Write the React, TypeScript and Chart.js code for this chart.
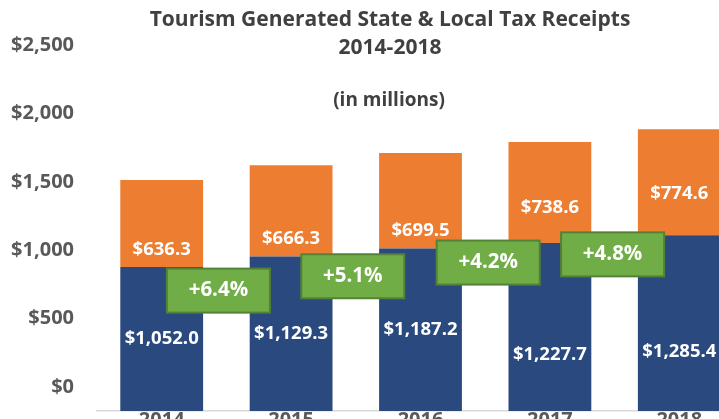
import React, { useEffect, useRef } from "react";
import { Chart, registerables } from "chart.js";

Chart.register(...registerables);

const years = ["2014", "2015", "2016", "2017", "2018"];
const baseValues = [1052.0, 1129.3, 1187.2, 1227.7, 1285.4];
const topValues = [636.3, 666.3, 699.5, 738.6, 774.6];
const growthLabels = ["+6.4%", "+5.1%", "+4.2%", "+4.8%"];
const growthLevels = [880, 985, 1085, 1145];
const yMin = 0;
const yMax = 2500;
const yStep = 500;
const titleLines = ["Tourism Generated State & Local Tax Receipts", "2014-2018"];
const subtitle = "(in millions)";

const FONT = "'Open Sans', Lato, sans-serif";
const BLUE = "#2A4A7F";
const ORANGE = "#ED7D31";
const GREEN = "#70AD47";
const GREEN_BORDER = "#548235";
const GRAY = "#595959";
const DARK = "#404040";

// label adjustments (pixels), styling only
const baseLabelShift = [0, 0, 0, 28, 29];
const topLabelShift = [26, 28, 30, 15, 12];
const growthShiftX = [-8, -3, 3, -2];

const fmt = (v: number) =>
  "$" + v.toLocaleString("en-US", { minimumFractionDigits: 1, maximumFractionDigits: 1 });

const overlay = {
  id: "overlay",
  afterDatasetsDraw(chart: any) {
    const ctx = chart.ctx as CanvasRenderingContext2D;
    const m0 = chart.getDatasetMeta(0).data;
    const m1 = chart.getDatasetMeta(1).data;
    ctx.save();
    ctx.textAlign = "center";
    ctx.textBaseline = "middle";
    ctx.fillStyle = "#FFFFFF";
    ctx.font = `bold 18.5px ${FONT}`;
    m0.forEach((el: any, i: number) => {
      const p = el.getProps(["x", "y", "base"], true);
      ctx.fillText(fmt(baseValues[i]), p.x, (p.y + p.base) / 2 + baseLabelShift[i]);
    });
    m1.forEach((el: any, i: number) => {
      const p = el.getProps(["x", "y", "base"], true);
      ctx.fillText(fmt(topValues[i]), p.x, (p.y + p.base) / 2 + topLabelShift[i]);
    });
    // growth boxes
    const yScale = chart.scales.y;
    growthLabels.forEach((g, i) => {
      const a = m0[i].getProps(["x"], true).x;
      const b = m0[i + 1].getProps(["x"], true).x;
      const cx = (a + b) / 2 + growthShiftX[i];
      const cy = yScale.getPixelForValue(growthLevels[i]);
      const w = 103;
      const h = 44;
      ctx.fillStyle = GREEN;
      ctx.fillRect(cx - w / 2, cy - h / 2, w, h);
      ctx.strokeStyle = GREEN_BORDER;
      ctx.lineWidth = 2;
      ctx.strokeRect(cx - w / 2, cy - h / 2, w, h);
      ctx.fillStyle = "#FFFFFF";
      ctx.font = `bold 20.5px ${FONT}`;
      ctx.fillText(g, cx, cy);
    });
    // titles
    ctx.fillStyle = DARK;
    ctx.font = `bold 21px ${FONT}`;
    ctx.fillText(titleLines[0], 390, 20);
    ctx.fillText(titleLines[1], 390, 48);
    ctx.font = `bold 19px ${FONT}`;
    ctx.fillText(subtitle, 389, 101);
    ctx.restore();
  },
};

export default function App() {
  const ref = useRef<HTMLCanvasElement | null>(null);
  useEffect(() => {
    if (!ref.current) return;
    const chart = new Chart(ref.current, {
      type: "bar",
      data: {
        labels: years,
        datasets: [
          {
            label: "Base",
            data: baseValues,
            backgroundColor: BLUE,
            categoryPercentage: 1,
            barPercentage: 0.64,
          },
          {
            label: "Top",
            data: topValues,
            backgroundColor: ORANGE,
            categoryPercentage: 1,
            barPercentage: 0.64,
          },
        ],
      },
      options: {
        responsive: false,
        animation: false,
        layout: { padding: { top: 69, left: 0, right: 0, bottom: 0 } },
        plugins: {
          legend: { display: false },
          tooltip: { enabled: false },
          title: { display: false },
        },
        scales: {
          x: {
            stacked: true,
            grid: { display: false, drawTicks: false },
            border: { display: true, color: "#D9D9D9", width: 1.5 },
            ticks: {
              color: GRAY,
              font: { family: FONT, size: 20, weight: "bold" },
              padding: -3,
              maxRotation: 0,
            },
            afterFit: (s: any) => {
              s.height = 40;
            },
          },
          y: {
            stacked: true,
            min: yMin,
            max: yMax,
            grid: { display: false, drawTicks: false },
            border: { display: false },
            ticks: {
              stepSize: yStep,
              color: GRAY,
              padding: 23,
              labelOffset: -24,
              font: { family: FONT, size: 20, weight: "bold" },
              callback: (v: any) => "$" + Number(v).toLocaleString("en-US"),
            },
            afterFit: (s: any) => {
              s.width = 97;
            },
          },
        },
      },
      plugins: [overlay],
    });
    return () => chart.destroy();
  }, []);
  return (
    <div
      style={{
        position: "fixed",
        left: 0,
        top: 0,
        width: 719,
        height: 419,
        overflow: "hidden",
        background: "#FFFFFF",
      }}
    >
      <canvas ref={ref} width={744} height={451} style={{ display: "block" }} />
    </div>
  );
}
